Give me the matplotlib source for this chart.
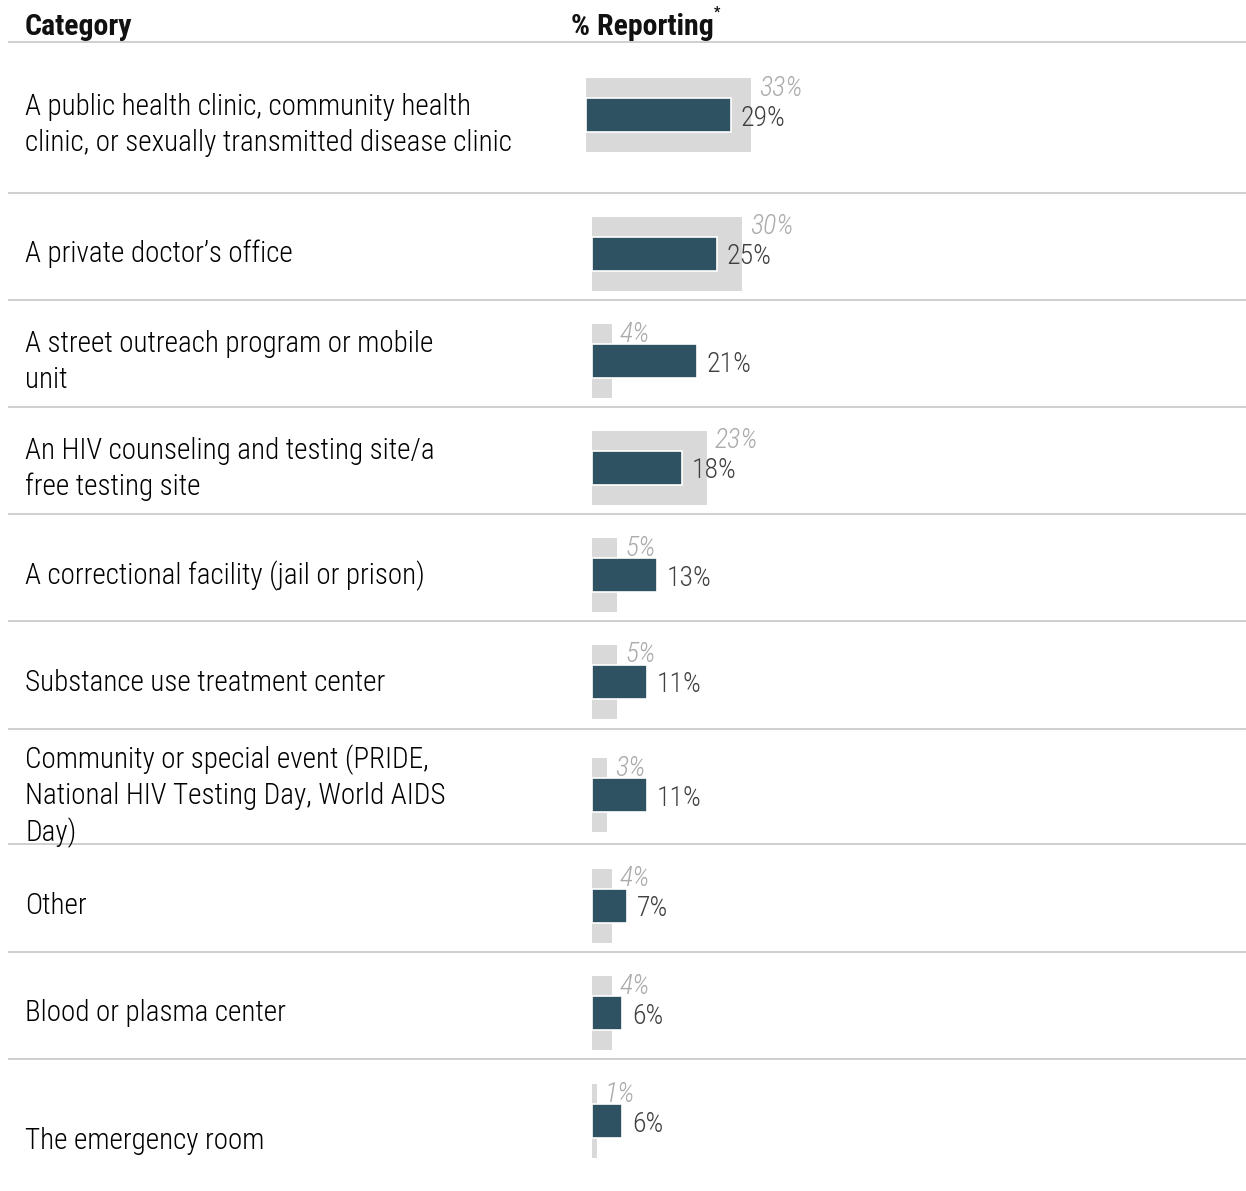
import matplotlib
matplotlib.use("Agg")
import matplotlib.pyplot as plt

plt.rcParams["font.family"] = ["Roboto Condensed", "Roboto", "DejaVu Sans"]

# Chart data
categories = [
    "A public health clinic, community health\nclinic, or sexually transmitted disease clinic",
    "A private doctor\u2019s office",
    "A street outreach program or mobile\nunit",
    "An HIV counseling and testing site/a\nfree testing site",
    "A correctional facility (jail or prison)",
    "Substance use treatment center",
    "Community or special event (PRIDE,\nNational HIV Testing Day, World AIDS\nDay)",
    "Other",
    "Blood or plasma center",
    "The emergency room",
]
pct_reporting = [29, 25, 21, 18, 13, 11, 11, 7, 6, 6]
pct_compare = [33, 30, 4, 23, 5, 5, 3, 4, 4, 1]

# Layout in pixels
W, H = 1246, 1191
row_edges = [42, 193, 300, 407, 514, 621, 729, 844, 952, 1059]
bar_y = [115, 254, 361, 468, 575, 682, 795, 906, 1013, 1121]
label_y = [125, 254, 362, 469, 576, 683, 796, 906, 1013, 1141]
row_shift = [-6, 0, 0, 0, 0, 0, 0, 0, 0, 0]
bar_x0 = 592
axes_x0 = 560
px_per_pct = 5.0

DARK = "#2f5262"
LIGHT = "#d9d9d9"
LINE = "#cccccc"

fig = plt.figure(figsize=(W / 100, H / 100), dpi=100)

# pixel-space overlay for text and rules
ax = fig.add_axes([0, 0, 1, 1])
ax.set_xlim(0, W)
ax.set_ylim(H, 0)
ax.axis("off")

# bar axes: x in percent (0 at bar_x0), y in pixels
bx = fig.add_axes([axes_x0 / W, 0, 1 - axes_x0 / W, 1])
bx.set_xlim(-(bar_x0 - axes_x0) / px_per_pct, (W - bar_x0) / px_per_pct)
bx.set_ylim(H, 0)
bx.axis("off")

ax.text(25, 27, "Category", fontsize=21.5, fontweight="bold", va="center", ha="left", color="#111111")
ax.text(571, 27, "% Reporting", fontsize=21.5, fontweight="bold", va="center", ha="left", color="#111111")
ax.text(714, 13, "*", fontsize=10, fontweight="bold", va="center", ha="left", color="#111111")

for y in row_edges:
    ax.plot([8, W], [y, y], color=LINE, lw=1.3, solid_capstyle="butt")

for i, cat in enumerate(categories):
    ax.text(25, label_y[i], cat, fontsize=21, va="center", ha="left",
            color="#000000", linespacing=1.32, fontweight="light")

shift = [s / px_per_pct for s in row_shift]
bx.barh(bar_y, pct_compare, height=74, left=shift, color=LIGHT, edgecolor="none")
bx.barh(bar_y, pct_reporting, height=34, left=shift, color=DARK, edgecolor="white", linewidth=1.2)

for i in range(len(categories)):
    bx.annotate(f"{pct_reporting[i]}%", xy=(pct_reporting[i] + shift[i], bar_y[i] + 3),
                xytext=(10, 0), textcoords="offset pixels", va="center", ha="left",
                fontsize=20, color="#404040", fontweight="light")
    bx.annotate(f"{pct_compare[i]}%", xy=(pct_compare[i] + shift[i], bar_y[i] - 27),
                xytext=(8, 0), textcoords="offset pixels", va="center", ha="left",
                fontsize=20, color="#ababab", fontstyle="italic", fontweight="light")

fig.savefig("out.png", dpi=100)
